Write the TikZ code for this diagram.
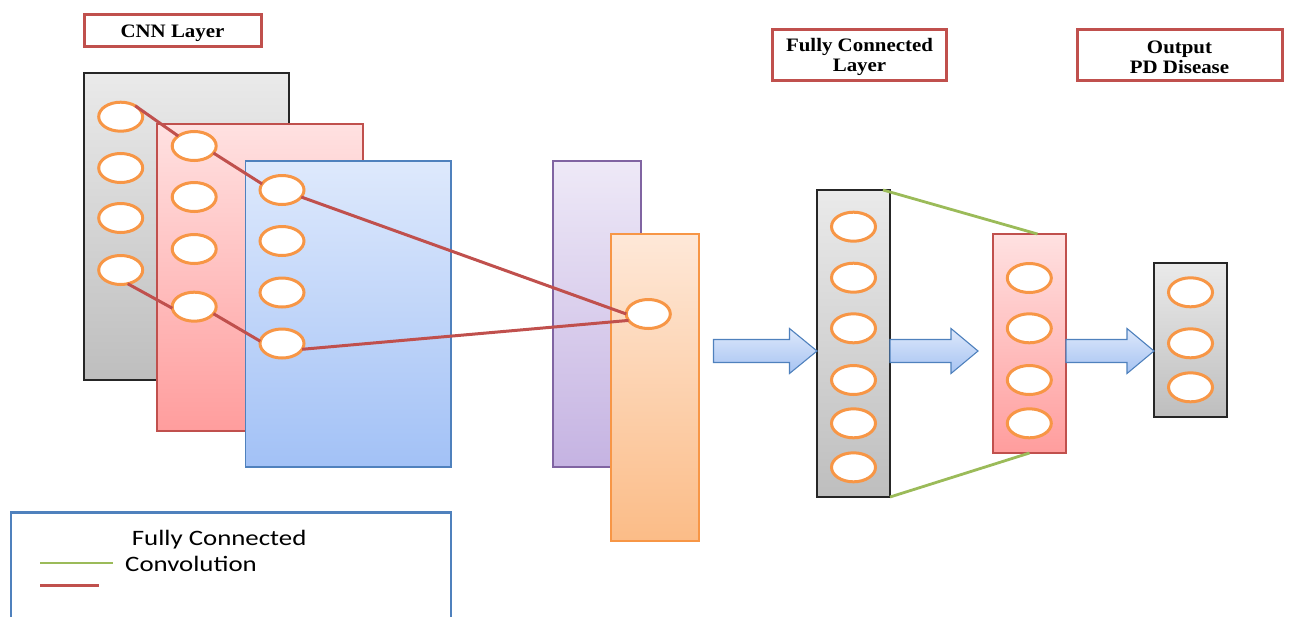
\documentclass[tikz,border=0pt]{standalone}
\usepackage{fontspec}
\newfontfamily\tagfont[FakeStretch=1.1]{Liberation Serif}
\newfontfamily\keyfont[FakeStretch=1.22]{Carlito}
\usetikzlibrary{shapes.geometric}

\definecolor{ared}{HTML}{C0504D}
\definecolor{ablue}{HTML}{4F81BD}
\definecolor{aorange}{HTML}{F79646}
\definecolor{agreen}{HTML}{9BBB59}
\definecolor{apurple}{HTML}{8064A2}
\definecolor{grayT}{HTML}{EAEAEA}\definecolor{grayB}{HTML}{BEBEBE}
\definecolor{pinkT}{HTML}{FFE1E1}\definecolor{pinkB}{HTML}{FF9D9D}
\definecolor{blueT}{HTML}{DEE9FC}\definecolor{blueB}{HTML}{A2C1F6}
\definecolor{purpT}{HTML}{EEE9F7}\definecolor{purpB}{HTML}{C5B3E2}
\definecolor{oranT}{HTML}{FEE8D8}\definecolor{oranB}{HTML}{FBBC87}
\definecolor{arrT}{HTML}{DDE8FB}\definecolor{arrB}{HTML}{A6C3F2}

\tikzset{
  layer/.style={rectangle, anchor=north west, inner sep=0pt, outer sep=0pt, line width=1.3pt},
  graylayer/.style={layer, draw=black!85, top color=grayT, bottom color=grayB},
  pinklayer/.style={layer, draw=ared, top color=pinkT, bottom color=pinkB},
  bluelayer/.style={layer, draw=ablue, top color=blueT, bottom color=blueB},
  purplelayer/.style={layer, draw=apurple, top color=purpT, bottom color=purpB},
  orangelayer/.style={layer, draw=aorange, top color=oranT, bottom color=oranB},
  unit/.style={ellipse, draw=aorange, line width=3pt, fill=white,
    minimum width=44pt, minimum height=29pt, inner sep=0pt, outer sep=0pt},
  tag/.style={rectangle, draw=ared, line width=3pt, fill=white, inner sep=0pt,
    align=center, font=\tagfont\bfseries\fontsize{19}{20}\selectfont},
  conv/.style={draw=ared, line width=3pt},
  fcline/.style={draw=agreen, line width=2.8pt},
  blockarrowstyle/.style={draw=ablue, line width=1.1pt, top color=arrT, bottom color=arrB},
  keytext/.style={inner sep=0pt, anchor=base west, font=\keyfont\fontsize{22}{24}\selectfont}
}

% tall strut that lowers a tag's text a little inside its frame
\newcommand\tagstrut{\rule{0pt}{19pt}}

% block arrow: start x, head base x, tip x (centre line at y = 351)
\newcommand\blockarrow[3]{%
  \path[blockarrowstyle] (#1,339.5) -- (#2,339.5) -- (#2,328.5) -- (#3,351)
    -- (#2,373.5) -- (#2,362.5) -- (#1,362.5) -- cycle;}

\begin{document}
\begin{tikzpicture}[x=1pt, y=-1pt]
\useasboundingbox (0,0) rectangle (1290,616);

% section tags
\node[tag, minimum width=177pt, minimum height=32pt] (tcnn) at (172.5,30)
  {\tagstrut CNN Layer};
\node[tag, minimum width=174pt, minimum height=51pt] (tfc) at (859.5,54.5)
  {\tagstrut Fully Connected\\Layer};
\node[tag, minimum width=205pt, minimum height=51pt] (tout) at (1179.5,54.5)
  {\tagstrut Output\\PD Disease};

% convolution feature maps
\node[graylayer, minimum width=205pt, minimum height=307pt] (L1) at (84,73) {};
\foreach \y [count=\i] in {116.7,168,218,270}
  \node[unit] (g\i) at (120.7,\y) {};
\node[pinklayer, minimum width=206pt, minimum height=307pt] (L2) at (157,124) {};
\foreach \y [count=\i] in {146,197,249,306.7}
  \node[unit] (p\i) at (194.2,\y) {};
\node[bluelayer, minimum width=205.5pt, minimum height=306pt] (L3) at (245.5,161) {};
\foreach \y [count=\i] in {190,241,292.5,343.5}
  \node[unit] (b\i) at (282,\y) {};
\node[purplelayer, minimum width=88pt, minimum height=306pt] (L4) at (553,161) {};
\node[orangelayer, minimum width=88pt, minimum height=307pt] (L5) at (611,234) {};
\node[unit] (o) at (648.3,314) {};

% convolution links
\draw[conv] (g1.37) -- (p1.148);
\draw[conv] (p1.-20) -- (b1.163);
\draw[conv] (b1.-20) -- (o.180);
\draw[conv] (g4.-63) -- (p4.184);
\draw[conv] (p4.-20) -- (b4.174);
\draw[conv] (b4.-16) -- (o.198);

% fully connected part
\node[graylayer, minimum width=73pt, minimum height=307pt] (F) at (817,190) {};
\foreach \y [count=\i] in {226.7,277.7,328.3,380,423.3,467.3}
  \node[unit] (f\i) at (853.5,\y) {};
\node[pinklayer, minimum width=73pt, minimum height=219pt] (P) at (993,234) {};
\foreach \y [count=\i] in {278,328.3,380,423.3}
  \node[unit] (q\i) at (1029.3,\y) {};
\node[graylayer, minimum width=73pt, minimum height=154pt] (O) at (1154,263) {};
\foreach \y [count=\i] in {292.3,343.3,387.3}
  \node[unit] (r\i) at (1190.5,\y) {};

\draw[fcline] ([xshift=-7pt]F.north east) -- ([xshift=8pt]P.north);
\draw[fcline] (F.south east) -- (P.south);

% flow arrows
\blockarrow{713.5}{789.5}{817}
\blockarrow{890}{951}{978}
\blockarrow{1066}{1127}{1154}

% legend
\draw[ablue, line width=2.4pt] (11,630) -- (11,512.5) -- (451,512.5) -- (451,630);
\node[keytext] (kfc) at (131.7,545.7) {Fully Connected};
\node[keytext] (kconv) at (125,571.7) {Convolution};
\draw[fcline] (40,563) -- (113,563);
\draw[conv] (40,585) -- (99,585);
\end{tikzpicture}
\end{document}
